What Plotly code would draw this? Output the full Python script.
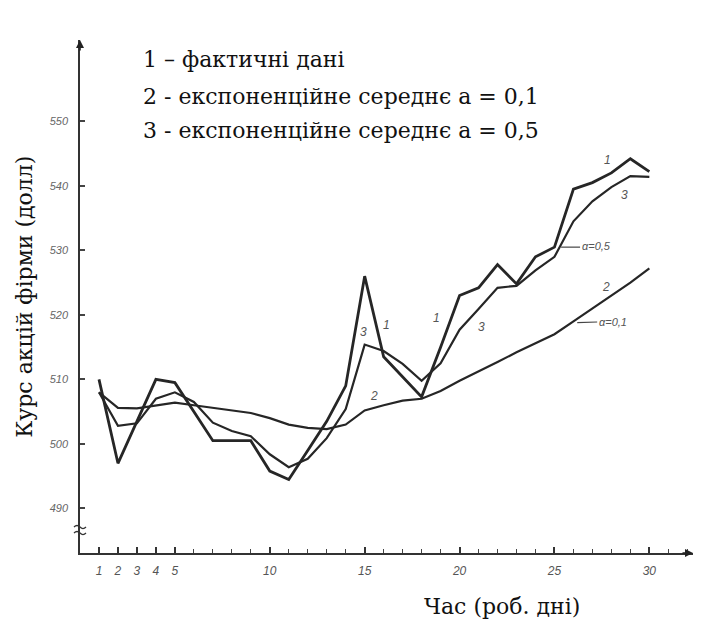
import plotly.graph_objects as go

days = list(range(1, 31))
actual = [510, 497, 503.5, 510, 509.5, 505, 500.5, 500.5, 500.5, 495.8,
          494.5, 499, 503.5, 509, 526, 513.5, 510.4, 507.3, 515, 523,
          524.2, 527.8, 524.8, 529, 530.5, 539.5, 540.5, 542, 544.2, 542.2]
exp01 = [508, 505.6, 505.5, 506, 506.4, 506, 505.6, 505.1, 504.8, 504,
         503, 502.5, 502.3, 503, 505.2, 506, 506.7, 507, 508.2, 509.8,
         511.2, 512.7, 514.2, 515.6, 517, 519, 521, 523, 525, 527.2]
exp05 = [508, 502.8, 503.2, 507, 508, 506.5, 503.3, 502, 501.2, 498.4,
         496.4, 497.7, 500.9, 505.4, 515.4, 514.4, 512.4, 509.8, 512.5, 517.7,
         520.9, 524.2, 524.5, 526.9, 529, 534.5, 537.6, 539.8, 541.5, 541.4]

x_labels = [1, 2, 3, 4, 5, 10, 15, 20, 25, 30]
y_labels = [490, 500, 510, 520, 530, 540, 550]

legend_lines = ["1 – фактичні дані",
                "2 - експоненційне середнє а = 0,1",
                "3 - експоненційне середнє а = 0,5"]
y_title = "Курс акцій фірми (долл)"
x_title = "Час (роб. дні)"

X0, X1 = 0, 32.3
Y0, Y1 = 483.1, 562.6

line_col = "#262626"
lab_font = dict(family="Liberation Sans", size=12, color="#555", style="italic")
serif = "DejaVu Serif"

fig = go.Figure()
fig.add_trace(go.Scatter(x=days, y=exp01, mode="lines",
                         line=dict(color=line_col, width=2.2), hoverinfo="skip"))
fig.add_trace(go.Scatter(x=days, y=exp05, mode="lines",
                         line=dict(color=line_col, width=2.2), hoverinfo="skip"))
fig.add_trace(go.Scatter(x=days, y=actual, mode="lines",
                         line=dict(color=line_col, width=2.8), hoverinfo="skip"))

ann = []
for i, t in enumerate(legend_lines):
    ann.append(dict(x=3.2, y=[559.6, 553.9, 548.6][i], xref="x", yref="y", text=t,
                    showarrow=False, xanchor="left", yanchor="middle",
                    font=dict(family=serif, size=22, color="#111")))
ann.append(dict(x=-0.091, y=0.5, xref="paper", yref="paper", text=y_title,
                textangle=-90, showarrow=False, xanchor="center", yanchor="middle",
                font=dict(family=serif, size=22, color="#111")))
ann.append(dict(x=0.688, y=-0.105, xref="paper", yref="paper", text=x_title,
                showarrow=False, xanchor="center", yanchor="middle",
                font=dict(family=serif, size=22, color="#111")))
for (tx, ty, t) in [(27.77, 544.0, "1"), (28.67, 538.6, "3"), (27.7, 524.3, "2"),
                    (18.78, 519.5, "1"), (21.17, 518.1, "3"), (16.17, 518.4, "1"),
                    (14.95, 517.4, "3"), (15.48, 507.4, "2")]:
    ann.append(dict(x=tx, y=ty, xref="x", yref="y", text=t, showarrow=False,
                    font=lab_font))
small = dict(family="Liberation Sans", size=11, color="#555", style="italic")
ann.append(dict(x=26.35, y=530.6, xref="x", yref="y", text="α=0,5", showarrow=False,
                xanchor="left", font=small))
ann.append(dict(x=27.25, y=518.9, xref="x", yref="y", text="α=0,1", showarrow=False,
                xanchor="left", font=small))
ann.append(dict(x=X1, y=Y0, xref="x", yref="y", ax=-12, ay=0, text="", showarrow=True,
                arrowhead=2, arrowsize=1, arrowwidth=1.6, arrowcolor="#222"))
ann.append(dict(x=X0, y=Y1, xref="x", yref="y", ax=0, ay=12, text="", showarrow=True,
                arrowhead=2, arrowsize=1, arrowwidth=1.6, arrowcolor="#222"))

shapes = [
    dict(type="line", xref="x", yref="y", x0=25.35, x1=26.35, y0=530.5, y1=530.5,
         line=dict(color="#444", width=1.2)),
    dict(type="line", xref="x", yref="y", x0=26.2, x1=27.25, y0=518.8, y1=518.9,
         line=dict(color="#444", width=1.2)),
    dict(type="path", xref="paper", yref="y", xsizemode="pixel", ysizemode="pixel",
         xanchor=0, yanchor=486.5,
         path="M -6,4 Q -3,7 0,4 T 6,4 M -6,-2 Q -3,1 0,-2 T 6,-2",
         line=dict(color="#333", width=1.3)),
]

# page body has an 8px default margin, so the figure is 8px smaller than the window
fig.update_layout(
    width=712, height=618,
    margin=dict(l=72, r=27, t=32, b=73),
    paper_bgcolor="white", plot_bgcolor="white",
    showlegend=False,
    annotations=ann, shapes=shapes,
    xaxis=dict(range=[X0, X1], showgrid=False, zeroline=False, showline=True,
               linecolor="#333", linewidth=1.5, tickmode="array",
               tickvals=x_labels, ticktext=[str(v) for v in x_labels],
               ticks="inside", ticklen=6, tickcolor="#333", tickwidth=1.5,
               tickfont=lab_font, ticklabelstandoff=6,
               minor=dict(tickmode="linear", tick0=0, dtick=1, ticks="inside",
                          ticklen=4, tickcolor="#444", tickwidth=1.2)),
    yaxis=dict(range=[Y0, Y1], showgrid=False, zeroline=False, showline=True,
               linecolor="#333", linewidth=1.5, tickmode="array",
               tickvals=y_labels, ticktext=[str(v) for v in y_labels],
               ticks="inside", ticklen=5, tickcolor="#444", tickwidth=1.5,
               tickfont=dict(family="Liberation Sans", size=11, color="#666", style="italic"),
               ticklabelstandoff=8),
)

fig.write_html("out.html")
